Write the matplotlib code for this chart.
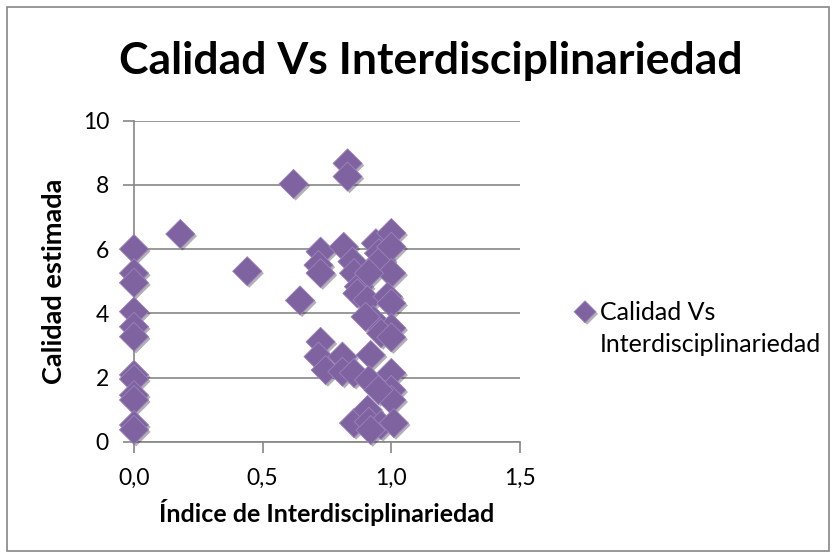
import matplotlib
matplotlib.use('Agg')
import matplotlib.pyplot as plt
import matplotlib.patheffects as pe
from matplotlib.patches import Rectangle
from matplotlib.ticker import FuncFormatter

# índice de interdisciplinariedad y calidad estimada
indice = [
    0.0, 0.0, 0.0, 0.0, 0.0, 0.0, 0.0, 0.0, 0.0, 0.0, 0.0, 0.0,
    0.18, 0.44, 0.62, 0.645,
    0.83, 0.83, 0.725, 0.717, 0.725, 0.815, 0.849, 0.855, 0.874,
    0.94, 0.952, 0.96, 1.0, 1.0, 1.0, 0.913,
    0.868, 0.907, 0.986, 1.0, 0.93, 0.90, 1.0, 0.96, 1.0,
    0.725, 0.717, 0.745, 0.81, 0.81, 0.92, 0.855, 0.913,
    1.0, 1.0, 1.0, 0.95,
    0.855, 0.908, 0.913, 0.96, 1.01, 0.92,
]
calidad = [
    6.0, 5.25, 4.95, 4.05, 3.58, 3.27, 2.08, 1.95, 1.45, 1.3, 0.52, 0.37,
    6.47, 5.31, 8.03, 4.4,
    8.67, 8.26, 5.92, 5.5, 5.25, 6.07, 5.61, 5.25, 4.83,
    6.18, 5.87, 5.66, 6.5, 6.07, 5.25, 5.25,
    4.62, 4.41, 4.52, 4.31, 3.79, 3.89, 3.54, 3.38, 3.25,
    3.11, 2.65, 2.23, 2.65, 2.18, 2.7, 2.14, 1.92,
    2.14, 1.61, 1.3, 1.61,
    0.58, 0.99, 0.62, 0.52, 0.58, 0.36,
]
serie = 'Calidad Vs\nInterdisciplinariedad'

plt.rcParams['font.family'] = ['Lato', 'DejaVu Sans']
gris = '#868686'
morado = '#7F63A1'

fig = plt.figure(figsize=(8.36, 5.58), dpi=100)
ax = fig.add_axes([134 / 836, 1 - 441.7 / 558, 386 / 836, 321 / 558])

ax.scatter(indice, calidad, marker='D', s=220, c=morado,
           edgecolors='#9A84BA', linewidths=0.6, zorder=3,
           path_effects=[pe.SimplePatchShadow(offset=(1.5, -1.5), alpha=0.35),
                         pe.Normal()],
           label=serie)

ax.set_xlim(0, 1.5)
ax.set_ylim(0, 10)
ax.set_xticks([0, 0.5, 1.0, 1.5])
ax.set_yticks(range(0, 11, 2))
ax.xaxis.set_major_formatter(FuncFormatter(lambda v, p: f'{v:.1f}'.replace('.', ',')))
ax.yaxis.grid(True, color=gris, linewidth=1.2)
ax.set_axisbelow(True)
for s in ['top', 'right']:
    ax.spines[s].set_visible(False)
for s in ['left', 'bottom']:
    ax.spines[s].set_color(gris)
    ax.spines[s].set_linewidth(1.2)
ax.tick_params(axis='both', colors=gris, length=8, width=1.2, labelsize=16.5,
               labelcolor='black')
ax.tick_params(axis='x', pad=11)
ax.tick_params(axis='y', pad=10)
for c in ax.collections:
    c.set_clip_on(False)

ax.set_xlabel('Índice de Interdisciplinariedad', fontsize=18, fontweight='bold',
              labelpad=7)
ax.set_ylabel('Calidad estimada', fontsize=19.5, fontweight='bold', labelpad=12)

fig.text(0.515, 0.89, 'Calidad Vs Interdisciplinariedad', fontsize=32,
         fontweight='bold', ha='center', va='center')

leg = ax.legend(loc='center left', bbox_to_anchor=(1.1425, 0.3526),
                frameon=False, fontsize=18, handlelength=0.8,
                handletextpad=0.2, borderpad=0, borderaxespad=0,
                markerscale=0.75, scatteryoffsets=[1.5])
leg.get_texts()[0].set_linespacing(1.5)

fig.patches.append(Rectangle((7 / 836, 7 / 558), 822 / 836, 544 / 558,
                             transform=fig.transFigure, fill=False,
                             edgecolor=gris, linewidth=1.2))

fig.savefig('out.png', dpi=100)
